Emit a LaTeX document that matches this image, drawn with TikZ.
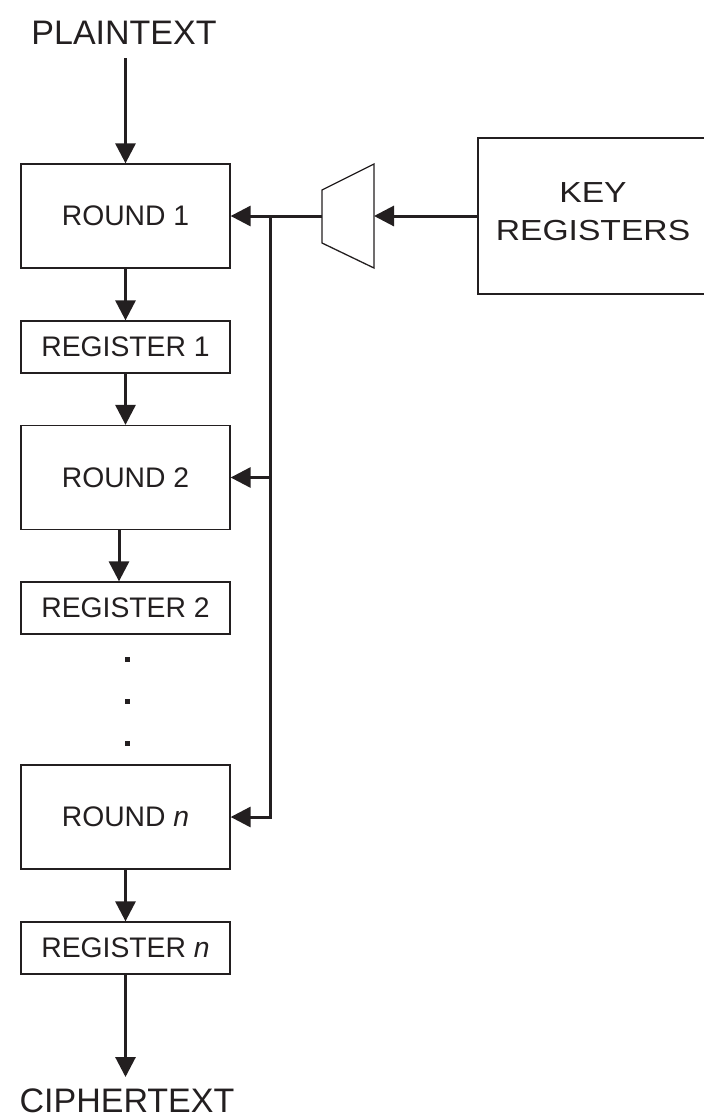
\documentclass[tikz,border=0pt]{standalone}
\usepackage{fontspec}
\setmainfont{Liberation Sans}
\usetikzlibrary{arrows.meta}
\definecolor{ink}{RGB}{35,31,32}
\begin{document}
\begin{tikzpicture}[x=1pt,y=-1pt,
  every node/.style={text=ink},
  blk/.style={draw=ink,line width=1.3pt,inner sep=0pt,minimum width=209pt,
    font=\fontsize{28.3}{34}\selectfont},
  roundbox/.style={blk,minimum height=104pt},
  regbox/.style={blk,minimum height=52pt},
  io/.style={inner sep=0pt,anchor=base,font=\fontsize{34}{40}\selectfont},
  arr/.style={draw=ink,line width=3pt,-{Triangle[length=20pt,width=20pt]}},
  dotsq/.style={fill=ink,inner sep=0pt,minimum size=5pt}]
\useasboundingbox (0,0) rectangle (704,1117);
\clip (0,0) rectangle (704,1117);

% input and output labels
\node[io] (plain) at (124,44) {PLAINTEXT};
\node[io] (cipher) at (127,1112) {CIPHERTEXT};

% round and register column
\node[roundbox] (round1) at (125.5,216) {ROUND 1};
\node[regbox]   (reg1)   at (125.5,347) {REGISTER 1};
\node[roundbox] (round2) at (125.5,477.5) {ROUND 2};
\node[regbox]   (reg2)   at (125.5,608) {REGISTER 2};
\node[roundbox] (roundn) at (125.5,817) {ROUND \textit{n}};
\node[regbox]   (regn)   at (125.5,948) {REGISTER \textit{n}};

% ellipsis between register 2 and round n
\node[dotsq] (d1) at (127,659) {};
\node[dotsq] (d2) at (127,701) {};
\node[dotsq] (d3) at (127,743) {};

% key register block
\node[draw=ink,line width=1.3pt,minimum width=231pt,minimum height=156pt,inner sep=0pt]
  (key) at (593.5,216) {};
\node[inner sep=0pt,align=center,font=\fontsize{29}{38}\selectfont] (keytxt) at (593,212)
  {\scalebox{1.16}[1]{KEY}\\\scalebox{1.16}[1]{REGISTERS}};

% key multiplexer
\coordinate (m1) at (322,190);
\coordinate (m2) at (374,164);
\coordinate (m3) at (374,268);
\coordinate (m4) at (322,243);
\coordinate (muxin) at (374,216);
\coordinate (muxout) at (322,216);
\draw[ink,line width=1.3pt,line join=miter] (m1) -- (m2) -- (m3) -- (m4) -- cycle;

% data path
\draw[arr] ([yshift=-14pt]plain.south -| round1.north) -- (round1.north);
\draw[arr] (round1.south) -- (reg1.north);
\draw[arr] (reg1.south) -- (round2.north);
\draw[arr] ([xshift=-6.5pt]round2.south) -- ([xshift=-6.5pt]reg2.north);
\draw[arr] (roundn.south) -- (regn.north);
\draw[arr] (regn.south) -- ([yshift=35pt]cipher.base -| regn.south);

% key distribution
\coordinate (jtop) at (270,216);
\draw[arr] (key.west) -- (muxin);
\draw[arr] (muxout) -- (round1.east);
\draw[arr] (jtop) |- (roundn.east);
\draw[arr] (round2.east -| jtop) -- (round2.east);
\end{tikzpicture}
\end{document}
